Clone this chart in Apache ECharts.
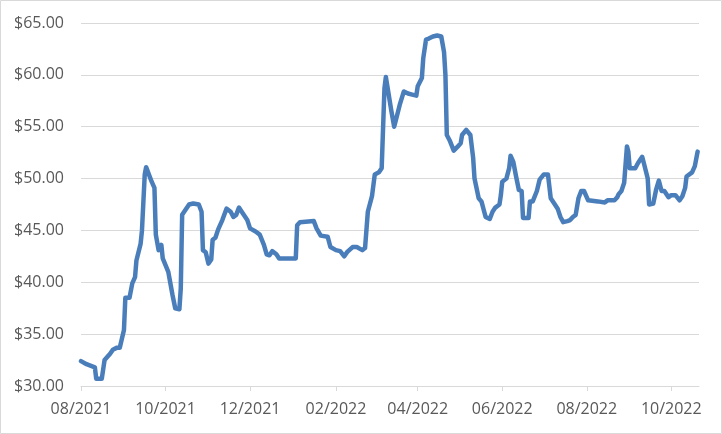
<!DOCTYPE html>
<html>
<head>
<meta charset="utf-8">
<script src="https://cdn.jsdelivr.net/npm/echarts@6/dist/echarts.min.js"></script>
<style>
html,body{margin:0;padding:0;background:#fff;}
#chart{width:722px;height:434px;}
</style>
</head>
<body>
<div id="chart"></div>
<script>
// Days elapsed since 2021-08-01 for each vertex
const startDate = [2021, 7, 1];
const dayOffsets = [0,4,10,11,15,17,21,23,26,28,31,32,35,37,39,40,43,44,46,47,51,53,54,56,58,59,63,66,68,71,72,73,74,78,81,85,87,88,90,92,94,95,97,99,102,105,108,110,112,114,116,120,122,126,129,132,134,136,138,141,143,147,155,156,158,168,170,173,178,180,184,187,190,192,196,199,203,205,207,210,212,215,217,219,220,221,224,226,227,230,233,236,239,242,243,246,247,249,251,254,257,260,262,263,264,266,269,272,274,275,278,281,283,284,287,289,291,292,295,297,299,302,303,304,307,309,310,312,314,316,318,319,323,324,326,329,331,334,337,339,342,344,346,348,351,353,355,357,359,361,363,366,373,378,380,385,387,388,390,392,394,395,396,400,402,405,406,409,410,413,415,417,419,421,424,426,429,432,434,436,437,441,443,445];
const prices = [32.4,32.1,31.8,30.7,30.7,32.5,33.1,33.5,33.7,33.7,35.4,38.5,38.5,39.9,40.5,42.1,43.7,45.0,50.4,51.1,49.7,49.1,44.6,43.1,43.6,42.3,41.0,38.8,37.5,37.4,39.4,46.5,46.5,47.5,47.6,47.5,46.8,43.1,42.9,41.8,42.2,44.1,44.3,45.1,46.0,47.1,46.8,46.3,46.5,47.2,46.8,46.0,45.2,44.9,44.6,43.6,42.7,42.6,43.0,42.7,42.3,42.3,42.3,45.5,45.8,45.9,45.2,44.5,44.4,43.4,43.1,43.0,42.5,42.9,43.4,43.4,43.1,43.3,46.8,48.3,50.4,50.6,51.0,58.7,59.8,59.7,56.5,55.0,55.5,57.1,58.4,58.2,58.1,58.0,58.9,59.7,61.6,63.4,63.5,63.7,63.8,63.7,62.2,60.0,54.2,53.7,52.7,53.1,53.4,54.2,54.7,54.2,52.0,50.0,48.1,47.8,46.8,46.3,46.1,46.8,47.2,47.5,48.4,49.7,50.0,51.0,52.2,51.6,50.2,48.9,48.8,46.2,46.2,47.8,47.8,48.8,49.9,50.4,50.4,48.1,47.5,47.1,46.3,45.8,45.9,46.0,46.3,46.5,48.1,48.8,48.8,47.9,47.8,47.7,47.9,47.9,48.2,48.5,48.8,49.6,53.1,52.6,51.0,51.0,51.5,52.1,51.6,50.0,47.5,47.6,48.9,49.8,48.8,48.8,48.2,48.4,48.4,47.9,48.3,49.1,50.2,50.6,51.2,52.6];
// x tick labels (month starts) and y axis range
const xTickMonths = [[2021,7],[2021,9],[2021,11],[2022,1],[2022,3],[2022,5],[2022,7],[2022,9]];
const xEnd = [2022, 9, 21];
const yMin = 30, yMax = 65, yStep = 5;

const ts = (y, m, d) => new Date(y, m, d).getTime();
const seriesData = dayOffsets.map((d, i) => [ts(startDate[0], startDate[1], startDate[2] + d), prices[i]]);
const tickVals = xTickMonths.map(([y, m]) => ts(y, m, 1));
const pad = n => (n < 10 ? '0' : '') + n;

const chart = echarts.init(document.getElementById('chart'), null, {renderer: 'canvas'});
chart.setOption({
  animation: false,
  backgroundColor: '#ffffff',
  graphic: [{
    type: 'rect', silent: true,
    shape: {x: 0.5, y: 0.5, width: 721, height: 433},
    style: {fill: 'none', stroke: '#d9d9d9', lineWidth: 1}
  }],
  grid: {left: 81, right: 23, top: 23, bottom: 48, containLabel: false},
  xAxis: {
    type: 'value',
    min: ts(startDate[0], startDate[1], startDate[2]),
    max: ts(xEnd[0], xEnd[1], xEnd[2]),
    axisLine: {show: true, lineStyle: {color: '#d9d9d9', width: 1}},
    axisTick: {show: true, customValues: tickVals, length: 5, lineStyle: {color: '#d9d9d9'}},
    axisLabel: {
      customValues: tickVals,
      color: '#595959', fontFamily: 'Open Sans', fontSize: 16, margin: 15,
      formatter: v => { const d = new Date(v); return pad(d.getMonth() + 1) + '/' + d.getFullYear(); }
    },
    splitLine: {show: false}
  },
  yAxis: {
    type: 'value', min: yMin, max: yMax, interval: yStep,
    axisLine: {show: false}, axisTick: {show: false},
    axisLabel: {color: '#595959', fontFamily: 'Open Sans', fontSize: 16, margin: 17,
      formatter: v => '$' + v.toFixed(2)},
    splitLine: {lineStyle: {color: '#d9d9d9', width: 1}}
  },
  series: [{
    type: 'line', data: seriesData, showSymbol: false, smooth: false,
    lineStyle: {color: '#4a7ebb', width: 4.5, cap: 'round', join: 'round'},
    itemStyle: {color: '#4a7ebb'}
  }]
});
</script>
</body>
</html>
